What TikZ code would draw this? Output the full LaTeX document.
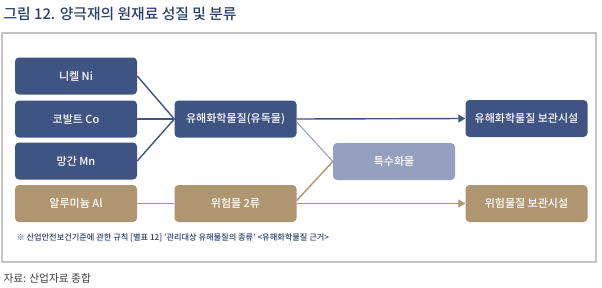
\documentclass[tikz,border=0pt]{standalone}
\usepackage{fontspec}
\setmainfont{Noto Sans CJK KR}[BoldFont={Noto Sans CJK KR Medium}]
\usepackage{xcolor}
\usepackage{tikz}
\usetikzlibrary{arrows.meta, calc}

\definecolor{navybox}{HTML}{3F5483}
\definecolor{tanbox}{HTML}{B09670}
\definecolor{palebox}{HTML}{959FBF}
\definecolor{titlenavy}{HTML}{2B3F6E}
\definecolor{framegray}{HTML}{C4C4C4}

\begin{document}
\begin{tikzpicture}[x=1pt, y=-1pt,
    matbox/.style={rounded corners=4pt, minimum width=122pt, minimum height=37pt,
        inner sep=0pt, text=white, font=\fontsize{11}{13}\selectfont\bfseries},
    navyfill/.style={matbox, fill=navybox},
    tanfill/.style={matbox, fill=tanbox},
    palefill/.style={matbox, fill=palebox},
    navyline/.style={draw=navybox, line width=1.4pt},
    tanline/.style={draw=tanbox, line width=1.4pt}]
    \useasboundingbox (0,0) rectangle (602,287);
    \fill[white] (0,0) rectangle (602,287);
    \node[anchor=west, text=titlenavy, font=\fontsize{14.8}{17}\selectfont\bfseries] (title) at (0,14) {그림 12. 양극재의 원재료 성질 및 분류};
    \draw[framegray, line width=1.5pt] (2,33) rectangle (596,262);
    \node[navyfill] (ni) at (76,76) {니켈 Ni};
    \node[navyfill] (co) at (76,119) {코발트 Co};
    \node[navyfill] (mn) at (76,161) {망간 Mn};
    \node[tanfill] (al) at (76,203.5) {알루미늄 Al};
    \node[navyfill] (toxic) at (235.5,119) {유해화학물질(유독물)};
    \node[tanfill] (hazard) at (235.5,203.5) {위험물 2류};
    \node[palefill] (special) at (394,161.5) {특수화물};
    \node[navyfill] (toxicstore) at (526.5,118.5) {유해화학물질 보관시설};
    \node[tanfill] (hazardstore) at (526.5,203.5) {위험물질 보관시설};
    \draw[navyline] (ni.east) -- (toxic.west);
    \draw[navyline] (co.east) -- (toxic.west);
    \draw[navyline] (mn.east) -- (toxic.west);
    \draw[navyline, -{Triangle[length=7pt, width=8pt]}] (toxic.east) -- (toxicstore.west);
    \draw[draw=palebox, line width=1pt] ($(toxic.east)+(0,3)$) -- (special.west);
    \draw[tanline] (al.east) -- (hazard.west);
    \draw[tanline] ($(hazard.east)+(0,-3)$) -- (special.west);
    \draw[tanline, -{Triangle[length=7pt, width=8pt]}] (hazard.east) -- (hazardstore.west);
    \node[anchor=west, text=titlenavy, font=\fontsize{8.2}{10}\selectfont\bfseries] (note) at (13,238) {※ 산업안전보건기준에 관한 규칙 [별표 12] '관리대상 유해물질의 종류' <유해화학물질 근거>};
    \node[anchor=west, text=black!75, font=\fontsize{10.7}{12}\selectfont] (source) at (0,278) {자료: 산업자료 종합};
\end{tikzpicture}
\end{document}
